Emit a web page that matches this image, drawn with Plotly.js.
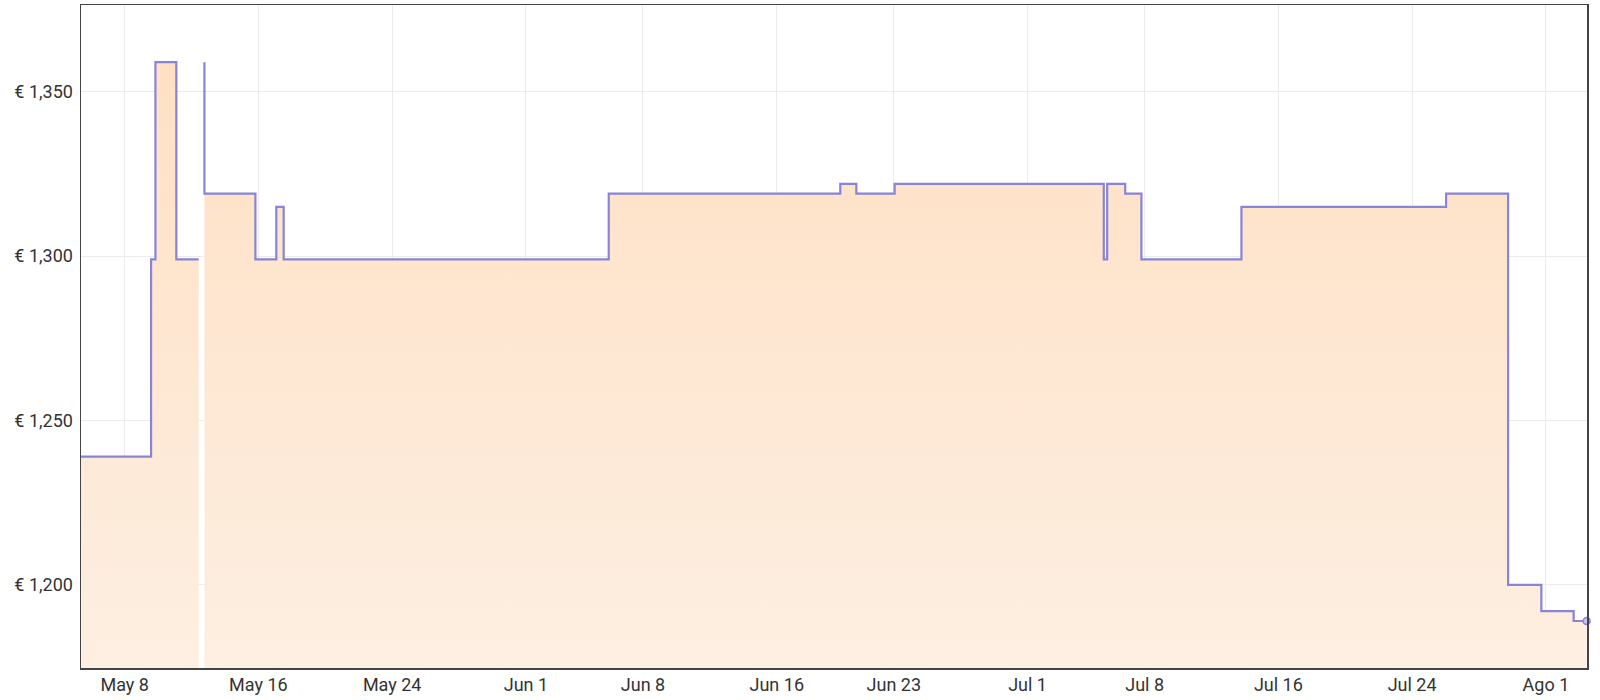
<!DOCTYPE html>
<html>
<head>
<meta charset="utf-8">
<script src="https://cdn.plot.ly/plotly-3.0.1.min.js"></script>
<style>
  html, body { margin: 0; padding: 0; background: #fff; }
  #chart { width: 1600px; height: 700px; }
</style>
</head>
<body>
<div id="chart"></div>
<script>
// historial de precio (escalones), null = sin datos
var fechas = [
  '2024-05-05 09:20', '2024-05-09 13:55', '2024-05-09 20:10', '2024-05-11 02:10',
  '2024-05-12 10:20', '2024-05-12 14:00', '2024-05-12 18:30', '2024-05-12 18:30',
  '2024-05-15 19:40', '2024-05-17 01:40', '2024-05-17 12:15', '2024-06-05 22:50',
  '2024-06-19 19:10', '2024-06-20 18:15', '2024-06-23 01:10', '2024-07-05 13:25',
  '2024-07-05 18:15', '2024-07-06 20:10', '2024-07-07 19:25', '2024-07-13 19:00',
  '2024-07-26 00:45', '2024-07-29 17:45', '2024-07-31 17:30', '2024-08-02 15:50',
  '2024-08-03 10:30'
];
var precios = [
  1239, 1299, 1359, 1299,
  1299, null, 1359, 1319,
  1299, 1315, 1299, 1319,
  1322, 1319, 1322, 1299,
  1322, 1319, 1299, 1315,
  1319, 1200, 1192, 1189,
  1189
];

var xTicks = ['2024-05-08', '2024-05-16', '2024-05-24', '2024-06-01', '2024-06-08', '2024-06-16',
              '2024-06-23', '2024-07-01', '2024-07-08', '2024-07-16', '2024-07-24', '2024-08-01'];
var xTickText = ['May 8', 'May 16', 'May 24', 'Jun 1', 'Jun 8', 'Jun 16',
                 'Jun 23', 'Jul 1', 'Jul 8', 'Jul 16', 'Jul 24', 'Ago 1'];
var yTicks = [1200, 1250, 1300, 1350];
var yTickText = yTicks.map(function (v) {
  return '\u20ac ' + v.toLocaleString('en-US');
});

var linea = '#8884d8';

// partir la serie en tramos donde hay huecos, para que el relleno no cruce
function tramos(xs, ys) {
  var out = [], cx = [], cy = [];
  for (var i = 0; i < ys.length; i++) {
    if (ys[i] === null) {
      if (cx.length) out.push([cx, cy]);
      cx = []; cy = [];
    } else {
      cx.push(xs[i]); cy.push(ys[i]);
    }
  }
  if (cx.length) out.push([cx, cy]);
  return out;
}

var data = tramos(fechas, precios).map(function (t) {
  return {
    x: t[0],
    y: t[1],
    type: 'scatter',
    mode: 'lines',
    line: { shape: 'hv', color: linea, width: 2.2 },
    fill: 'tozeroy',
    fillgradient: {
      type: 'vertical',
      colorscale: [[0, 'rgb(253,239,226)'], [1, 'rgb(255,224,196)']],
      start: 1174.7,
      stop: 1359
    },
    hoverinfo: 'x+y'
  };
});

data.push({
  x: [fechas[fechas.length - 1]],
  y: [precios[precios.length - 1]],
  type: 'scatter',
  mode: 'markers',
  marker: { size: 7, color: 'rgb(196,194,238)', line: { color: linea, width: 1.5 } },
  cliponaxis: false,
  hoverinfo: 'skip'
});

var layout = {
  width: 1600,
  height: 700,
  margin: { l: 81, r: 13, t: 5, b: 32 },
  showlegend: false,
  paper_bgcolor: '#fff',
  plot_bgcolor: '#fff',
  font: { family: 'Roboto, sans-serif', size: 18, color: '#333' },
  xaxis: {
    type: 'date',
    range: ['2024-05-05 09:20', '2024-08-03 11:00'],
    tickmode: 'array',
    tickvals: xTicks,
    ticktext: xTickText,
    showgrid: true,
    gridcolor: '#ebebeb',
    gridwidth: 1,
    showline: true,
    linecolor: '#444',
    linewidth: 1.5,
    mirror: true,
    ticks: '',
    zeroline: false
  },
  yaxis: {
    range: [1174.7, 1376.4],
    tickmode: 'array',
    tickvals: yTicks,
    ticktext: yTickText,
    ticklabelstandoff: 3,
    showgrid: true,
    gridcolor: '#ebebeb',
    gridwidth: 1,
    showline: true,
    linecolor: '#444',
    linewidth: 1.5,
    mirror: true,
    ticks: '',
    zeroline: false
  }
};

Plotly.newPlot('chart', data, layout, { displayModeBar: false, staticPlot: true });
</script>
</body>
</html>
